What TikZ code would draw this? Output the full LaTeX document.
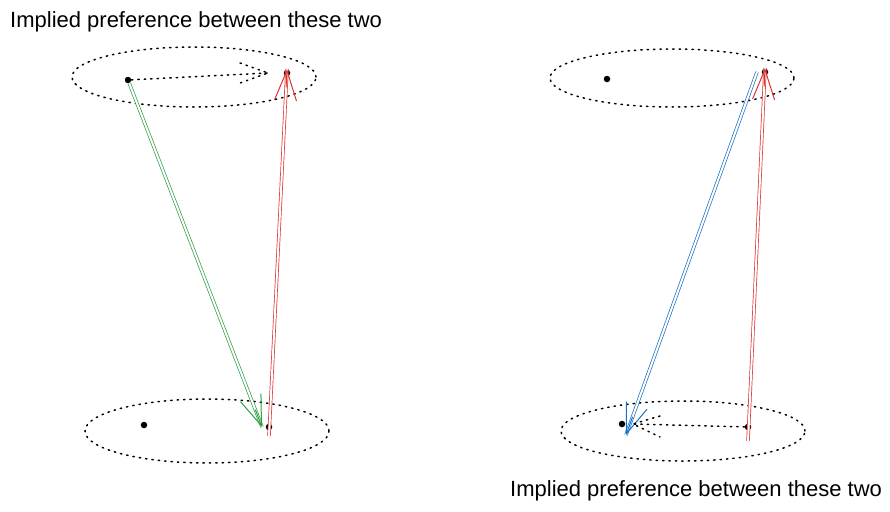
\documentclass[tikz,border=0pt]{standalone}
\usepackage{fontspec}
\setmainfont{Liberation Sans}
\usetikzlibrary{shapes.geometric,arrows.meta,positioning,calc}
\definecolor{sketchgreen}{RGB}{47,158,68}
\definecolor{sketchred}{RGB}{224,49,49}
\definecolor{sketchblue}{RGB}{25,113,194}

\begin{document}
\begin{tikzpicture}[x=1pt, y=-1pt]
\tikzstyle{group} = [ellipse, draw, line width=1.5pt, dash pattern=on 1.4pt off 5pt, line cap=round, inner sep=0pt, minimum width=244pt, minimum height=60pt]
\tikzstyle{item} = [circle, fill=black, inner sep=0pt, minimum size=6.5pt]
\tikzstyle{pref} = [double distance=2pt, line width=0.7pt]
\tikzstyle{head} = [line width=1pt, -{Straight Barb[length=30pt, width=22pt]}]
\tikzstyle{implied} = [line width=1.5pt, dash pattern=on 1.4pt off 5pt, line cap=round]
\tikzstyle{caption} = [font=\fontsize{22}{26}\selectfont, inner sep=0pt]

\useasboundingbox (0,0) rectangle (890,511);

% left pair of sets
\node (lefttop) [group] at (194,77) {};
\node (leftbottom) [group, minimum height=64pt] at (207,431) {};
\node (a1) [item] at (128,80) {};
\node (a2) [item] at (287,73) {};
\node (b1) [item] at (144,425) {};
\node (b2) [item] at (269,427) {};
\coordinate (a2in) at (268,73);
\coordinate (a2up) at ([yshift=4pt]a2.center);
\coordinate (b2in) at ([xshift=-7pt]b2.center);
\coordinate (b2up) at ([yshift=-9pt]b2.center);

% right pair of sets
\node (righttop) [group, minimum height=58pt] at (672,78) {};
\node (rightbottom) [group] at (683,431) {};
\node (c1) [item] at (607,79) {};
\node (c2) [item] at (765,72) {};
\node (d1) [item] at (622,424) {};
\node (d2) [item] at (748,427) {};
\coordinate (c2up) at ([yshift=4pt]c2.center);
\coordinate (c2in) at ([xshift=-8pt]c2.center);
\coordinate (d1in) at (633,424);
\coordinate (d1up) at ([shift={(4pt,-11pt)}]d1.center);
\coordinate (d2up) at ([yshift=-14pt]d2.center);

\node (topnote) [caption, anchor=west] at (10,22) {Implied preference between these two};
\node (bottomnote) [caption, anchor=west] at (510,491) {Implied preference between these two};

% stated preferences
\draw [pref, draw=sketchgreen] (a1) -- (b2in);
\draw [head, sketchgreen] ($(a1)!0.95!(b2in)$) -- (b2in);
\draw [pref, draw=sketchred] (b2up) -- (a2up);
\draw [head, sketchred] ($(b2up)!0.95!(a2up)$) -- (a2up);
\draw [pref, draw=sketchblue] (c2in) -- (d1up);
\draw [head, sketchblue] ($(c2in)!0.95!(d1up)$) -- (d1up);
\draw [pref, draw=sketchred] (d2up) -- (c2up);
\draw [head, sketchred] ($(d2up)!0.95!(c2up)$) -- (c2up);

% implied preferences, dotted with open heads
\draw [implied] (a1) -- (a2in);
\draw [implied] ([shift={(-28,-10)}]a2in) -- (a2in) -- ([shift={(-28,10)}]a2in);
\draw [implied] (d2) -- (d1in);
\draw [implied] ([shift={(27,-8)}]d1in) -- (d1in) -- ([shift={(27,13)}]d1in);
\end{tikzpicture}
\end{document}
